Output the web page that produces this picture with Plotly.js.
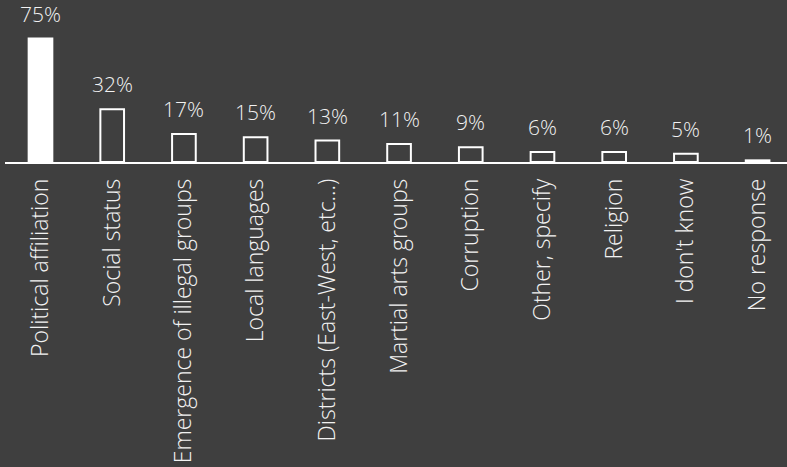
<!DOCTYPE html>
<html>
<head>
<meta charset="utf-8">
<script src="https://cdn.plot.ly/plotly-3.0.1.min.js"></script>
<style>
html,body{margin:0;padding:0;background:#3f3f3f;}
#chart{width:787px;height:467px;}
</style>
</head>
<body>
<div id="chart"></div>
<script>
const categories = ["Political affiliation","Social status","Emergence of illegal groups","Local languages","Districts (East-West, etc...)","Martial arts groups","Corruption","Other, specify","Religion","I don't know","No response"];
const values = [75,32,17,15,13,11,9,6,6,5,1];
const fills = ["#ffffff","#3f3f3f","#3f3f3f","#3f3f3f","#3f3f3f","#3f3f3f","#3f3f3f","#3f3f3f","#3f3f3f","#3f3f3f","#ffffff"];

const bg = "#3f3f3f";
const fg = "#f2f2f2";
const font = "'Open Sans', sans-serif";

const trace = {
  type: "bar",
  x: categories,
  y: values,
  marker: {color: fills, line: {color: "#ffffff", width: 2}},
  hoverinfo: "none"
};

const annotations = categories.map((c, i) => ({
  x: c, y: values[i], xref: "x", yref: "y",
  text: values[i] + "%", showarrow: false,
  yanchor: "bottom", yshift: 9,
  font: {family: font, size: 21, color: fg, weight: 300}
}));

const layout = {
  width: 787, height: 467,
  paper_bgcolor: bg, plot_bgcolor: bg,
  margin: {l: 5, r: 0, t: 0, b: 305},
  bargap: 0.67,
  showlegend: false,
  xaxis: {
    type: "category",
    range: [-0.495, 10.41],
    showline: true, linecolor: "#ffffff", linewidth: 1.5,
    ticks: "", showgrid: false, zeroline: false,
    tickangle: -90,
    tickfont: {family: font, size: 23, color: fg, weight: 300},
    ticklabelstandoff: 6
  },
  yaxis: {
    range: [0, 98.4],
    visible: false, showgrid: false, zeroline: false
  },
  annotations: annotations
};

Plotly.newPlot("chart", [trace], layout, {displayModeBar: false, staticPlot: true});
</script>
</body>
</html>
